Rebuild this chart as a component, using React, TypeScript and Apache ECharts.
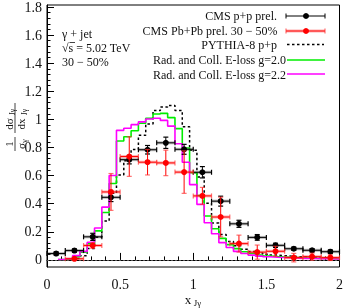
import React, { useEffect, useRef } from "react";
import * as echarts from "echarts";

const FONT = "'Liberation Serif', 'Times New Roman', serif";

// CMS p+p prel. (x_Jgamma bin centres, values, stat errors)
const ppX = [0.0625, 0.1875, 0.3125, 0.4375, 0.5625, 0.6875, 0.8125, 0.9375, 1.0625, 1.1875, 1.3125, 1.4375, 1.5625, 1.6875, 1.8125, 1.9375];
const ppY = [0.045, 0.066, 0.163, 0.442, 0.708, 0.778, 0.827, 0.781, 0.619, 0.415, 0.255, 0.159, 0.103, 0.079, 0.068, 0.058];
const ppErr = [0.012, 0.012, 0.025, 0.03, 0.03, 0.03, 0.04, 0.035, 0.04, 0.035, 0.025, 0.02, 0.015, 0.012, 0.012, 0.012];

// CMS Pb+Pb prel. 30-50%
const pbX = [0.1875, 0.3125, 0.4375, 0.5625, 0.6875, 0.8125, 0.9375, 1.0625, 1.1875, 1.3125, 1.4375, 1.5625, 1.6875, 1.8125, 1.9375];
const pbY = [0.008, 0.102, 0.48, 0.73, 0.69, 0.685, 0.62, 0.452, 0.303, 0.115, 0.055, 0.061, 0.016, 0.023, 0.016];
const pbErr = [0.012, 0.02, 0.13, 0.14, 0.09, 0.09, 0.15, 0.06, 0.14, 0.06, 0.05, 0.035, 0.03, 0.025, 0.02];

const xErrHalf = 0.0625;

// theory histograms (bin centres, half width 0.025)
const histCenters = [0.10, 0.15, 0.20, 0.25, 0.30, 0.35, 0.40, 0.45, 0.50, 0.55, 0.60, 0.65, 0.70, 0.75, 0.80, 0.85, 0.90, 0.95, 1.00, 1.05, 1.10, 1.15, 1.20, 1.25, 1.30, 1.35, 1.40, 1.45, 1.50, 1.55, 1.60, 1.65, 1.70, 1.75, 1.80, 1.85, 1.90, 1.95, 2.00];
const histHalf = 0.025;
const pythia = [0.0, 0.003, 0.01, 0.03, 0.08, 0.16, 0.275, 0.47, 0.60, 0.70, 0.78, 0.88, 0.96, 1.055, 1.08, 1.09, 1.055, 0.94, 0.775, 0.585, 0.40, 0.26, 0.18, 0.13, 0.10, 0.075, 0.06, 0.048, 0.04, 0.034, 0.03, 0.026, 0.023, 0.02, 0.018, 0.016, 0.014, 0.012, 0.011];
const eloss20 = [0.003, 0.007, 0.022, 0.055, 0.115, 0.205, 0.335, 0.54, 0.84, 0.87, 0.912, 0.965, 1.0, 1.03, 1.035, 1.005, 0.927, 0.79, 0.615, 0.455, 0.31, 0.22, 0.152, 0.108, 0.08, 0.058, 0.045, 0.035, 0.028, 0.024, 0.021, 0.018, 0.016, 0.014, 0.012, 0.011, 0.01, 0.009, 0.008];
const eloss22 = [0.003, 0.008, 0.03, 0.06, 0.125, 0.225, 0.373, 0.596, 0.915, 0.93, 0.955, 0.975, 0.995, 1.0, 0.985, 0.945, 0.82, 0.69, 0.532, 0.392, 0.262, 0.185, 0.122, 0.088, 0.06, 0.045, 0.034, 0.027, 0.022, 0.019, 0.017, 0.015, 0.013, 0.011, 0.01, 0.009, 0.008, 0.007, 0.006];

const yTickMin = 0;
const yTickMax = 1.8;
const yTickStep = 0.2;

function stepData(vals: number[]) {
  const out: number[][] = [];
  histCenters.forEach((c, i) => {
    const lo = Math.max(0, c - histHalf);
    const hi = Math.min(2, c + histHalf);
    out.push([lo, vals[i]], [hi, vals[i]]);
  });
  return out;
}

function errRender(kind: "pp" | "pb") {
  return (params: any, api: any) => {
    const x = api.value(0);
    const y = api.value(1);
    const e = api.value(2);
    const c = api.coord([x, y]);
    const l = api.coord([x - xErrHalf, y]);
    const r = api.coord([x + xErrHalf, y]);
    const t = api.coord([x, y + e]);
    const b = api.coord([x, y - e]);
    const main = kind === "pp" ? "#000000" : "#ff0000";
    const band = kind === "pp" ? "rgba(60,60,60,0.35)" : "rgba(255,60,60,0.4)";
    const capC = kind === "pp" ? "#000000" : "rgba(255,50,50,0.7)";
    const cap = 2.5;
    const ln = (x1: number, y1: number, x2: number, y2: number, stroke: string, w: number) => ({
      type: "line",
      shape: { x1, y1, x2, y2 },
      style: { stroke, lineWidth: w },
    });
    return {
      type: "group",
      children: [
        ln(l[0], c[1], r[0], c[1], band, 3),
        ln(l[0], c[1], r[0], c[1], main, 1),
        ln(l[0], c[1] - cap, l[0], c[1] + cap, capC, 1.2),
        ln(r[0], c[1] - cap, r[0], c[1] + cap, capC, 1.2),
        ln(c[0], t[1], c[0], b[1], main, 1),
        ln(c[0] - cap, t[1], c[0] + cap, t[1], capC, 1.2),
        ln(c[0] - cap, b[1], c[0] + cap, b[1], capC, 1.2),
        { type: "circle", shape: { cx: c[0], cy: c[1], r: 3 }, style: { fill: main } },
      ],
    };
  };
}

export default function App() {
  const ref = useRef<HTMLDivElement>(null);
  useEffect(() => {
    if (!ref.current) return;
    const chart = echarts.init(ref.current, undefined, { renderer: "svg" });
    const txt = (text: string, x: number, y: number, size: number, align = "left", extra: any = {}) => ({
      type: "text",
      x,
      y,
      style: { text, fontSize: size, fontFamily: FONT, fill: "#111", align, verticalAlign: "middle" },
      ...extra,
    });
    const gline = (x1: number, y1: number, x2: number, y2: number, stroke: string, w: number, dash?: number[]) => ({
      type: "line",
      shape: { x1, y1, x2, y2 },
      style: { stroke, lineWidth: w, lineDash: dash },
    });
    const option: any = {
      animation: false,
      grid: [
        { left: 47, right: 4, top: 5, bottom: 41, show: true, borderColor: "#000", borderWidth: 1, backgroundColor: "transparent" },
        { left: 47, right: 4, top: 5, bottom: 48.1, show: false },
      ],
      xAxis: [
        {
          type: "value",
          gridIndex: 0,
          min: 0,
          max: 2,
          interval: 0.5,
          axisLine: { show: true, lineStyle: { color: "#000", width: 1 } },
          axisTick: { show: true, inside: true, length: 7, lineStyle: { color: "#000" } },
          minorTick: { show: true, splitNumber: 5, length: 3.5, lineStyle: { color: "#000" } },
          splitLine: { show: false },
          axisLabel: { fontSize: 14, fontFamily: FONT, color: "#111", margin: 10 },
        },
        { type: "value", gridIndex: 1, min: 0, max: 2, show: false },
      ],
      yAxis: [
        {
          type: "value",
          gridIndex: 0,
          min: -0.05,
          max: 1.8,
          axisLine: { show: true, lineStyle: { color: "#000", width: 1 } },
          axisTick: { show: false },
          axisLabel: { show: false },
          splitLine: { show: false },
        },
        {
          type: "value",
          gridIndex: 1,
          min: yTickMin,
          max: yTickMax,
          interval: yTickStep,
          axisLine: { show: false },
          axisTick: { show: true, inside: true, length: 7, lineStyle: { color: "#000" } },
          minorTick: { show: true, splitNumber: 5, length: 3.5, lineStyle: { color: "#000" } },
          splitLine: { show: false },
          axisLabel: { fontSize: 14, fontFamily: FONT, color: "#111", margin: 5 },
        },
      ],
      series: [
        {
          type: "line",
          name: "PYTHIA-8 p+p",
          xAxisIndex: 0,
          yAxisIndex: 0,
          data: stepData(pythia),
          showSymbol: false,
          lineStyle: { color: "#000", width: 1.5, type: [2.5, 2.5] },
          markLine: {
            silent: true,
            symbol: "none",
            label: { show: false },
            lineStyle: { color: "#555", width: 1, type: [2, 2] },
            data: [{ yAxis: 0 }],
          },
        },
        {
          type: "line",
          name: "g=2.0",
          xAxisIndex: 0,
          yAxisIndex: 0,
          data: stepData(eloss20),
          showSymbol: false,
          lineStyle: { color: "#00ee00", width: 1.6 },
        },
        {
          type: "line",
          name: "g=2.2",
          xAxisIndex: 0,
          yAxisIndex: 0,
          data: stepData(eloss22),
          showSymbol: false,
          lineStyle: { color: "#ff00ff", width: 1.6 },
        },
        {
          type: "custom",
          name: "CMS p+p prel.",
          xAxisIndex: 0,
          yAxisIndex: 0,
          renderItem: errRender("pp"),
          encode: { x: 0, y: 1 },
          data: ppX.map((x, i) => [x, ppY[i], ppErr[i]]),
          z: 5,
        },
        {
          type: "custom",
          name: "CMS Pb+Pb prel. 30-50%",
          xAxisIndex: 0,
          yAxisIndex: 0,
          renderItem: errRender("pb"),
          encode: { x: 0, y: 1 },
          data: pbX.map((x, i) => [x, pbY[i], pbErr[i]]),
          z: 6,
        },
      ],
      graphic: [
        // annotation
        txt("γ + jet", 62, 34, 12),
        txt("√s = 5.02 TeV", 62, 48, 12),
        gline(69.5, 42.5, 75, 42.5, "#111", 0.8),
        txt("30 − 50%", 62, 62, 12),
        // legend
        txt("CMS p+p prel.", 277, 16.3, 12, "right"),
        gline(286, 16, 325, 16, "#000", 1),
        gline(286, 13.5, 286, 18.5, "#000", 1),
        gline(325, 13.5, 325, 18.5, "#000", 1),
        { type: "circle", shape: { cx: 306, cy: 16, r: 3 }, style: { fill: "#000" } },
        txt("CMS Pb+Pb prel. 30 − 50%", 277.5, 31, 12, "right"),
        gline(286, 31, 325, 31, "rgba(255,60,60,0.4)", 3),
        gline(286, 31, 325, 31, "#ff0000", 1),
        gline(286, 28.5, 286, 33.5, "rgba(255,50,50,0.7)", 1.2),
        gline(325, 28.5, 325, 33.5, "rgba(255,50,50,0.7)", 1.2),
        { type: "circle", shape: { cx: 306, cy: 31, r: 3 }, style: { fill: "#ff0000" } },
        txt("PYTHIA-8 p+p", 277, 44.5, 12, "right"),
        gline(287, 44.5, 324, 44.5, "#000", 1.5, [2.5, 2.5]),
        txt("Rad. and Coll. E-loss g=2.0", 286, 60.2, 12, "right"),
        gline(287, 60, 325, 60, "#00ee00", 1.6),
        txt("Rad. and Coll. E-loss g=2.2", 286, 74.5, 12, "right"),
        gline(287, 74, 325, 74, "#ff00ff", 1.6),
        // y axis title (rotated fraction)
        {
          type: "group",
          x: 15,
          y: 125,
          rotation: Math.PI / 2,
          children: [
            txt("1", -19, -6, 11, "center"),
            gline(-26, 0, -12, 0, "#111", 0.8),
            txt("σ", -21, 6, 11, "center"),
            txt("γ", -16, 9, 8, "center"),
            txt("dσ", 1, -6, 11, "center"),
            txt("Jγ", 13, -3, 8, "center"),
            gline(-8, 0, 22, 0, "#111", 0.8),
            txt("dx", 1, 6, 11, "center"),
            txt("Jγ", 13, 9, 8, "center"),
          ],
        },
        // x axis title
        txt("x", 188, 299, 13, "center"),
        txt("Jγ", 197.5, 303, 9, "center"),
      ],
    };
    chart.setOption(option);
    return () => chart.dispose();
  }, []);
  return <div ref={ref} style={{ position: "fixed", left: 0, top: 0, width: 346, height: 308 }} />;
}
